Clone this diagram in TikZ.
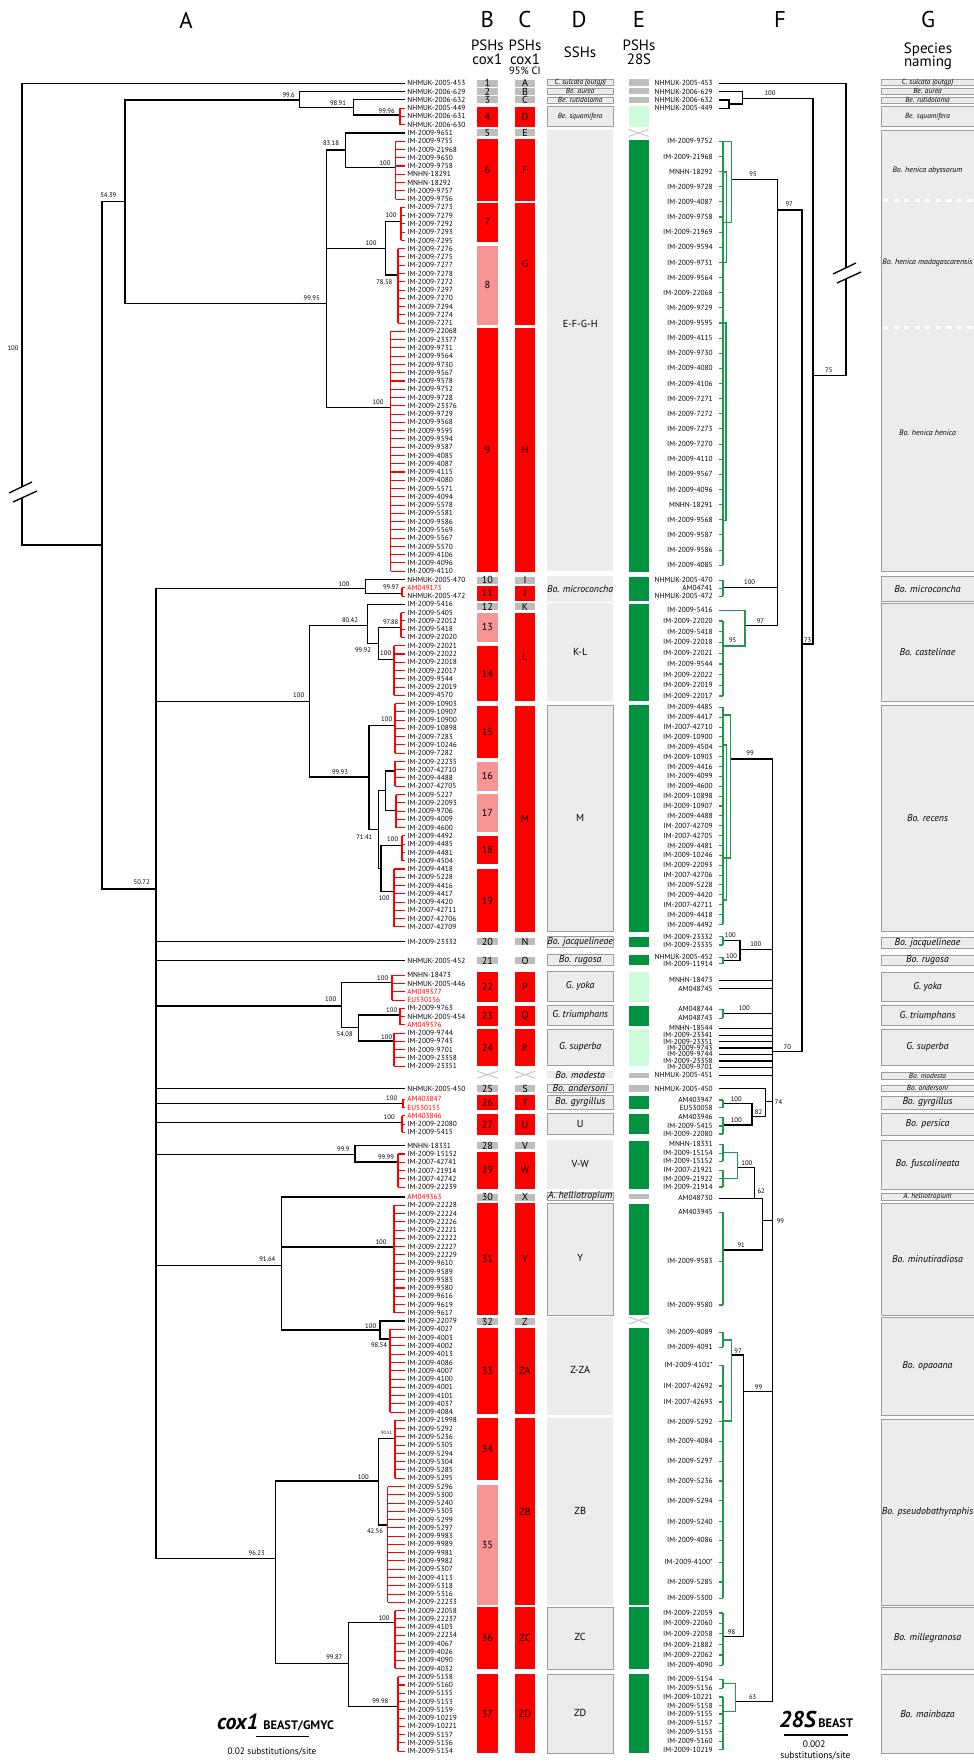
\documentclass[tikz,border=0pt]{standalone}
\usepackage{fontspec}
\setmainfont{PT Sans}
\usepackage{xcolor}
\definecolor{cladeRed}{HTML}{FF0000}
\definecolor{cladePink}{HTML}{F79494}
\definecolor{singleGrey}{HTML}{BDBDBD}
\definecolor{panelGrey}{HTML}{ECECEC}
\definecolor{edgeGrey}{HTML}{9C9C9C}
\definecolor{crossGrey}{HTML}{C8C8C8}
\definecolor{barGreen}{HTML}{00923F}
\definecolor{barMint}{HTML}{CCFCD9}
\definecolor{treeGreen}{HTML}{1E9A4A}

\newcommand{\tipfont}{\fontsize{4.2}{4.6}\selectfont}
\newcommand{\bootfont}{\fontsize{3.8}{4.2}\selectfont}
\newcommand{\numfont}{\fontsize{5.8}{6.2}\selectfont}
\newcommand{\spbig}{\fontsize{5.6}{6}\selectfont\itshape}
\newcommand{\spmid}{\fontsize{4.5}{5}\selectfont\itshape}
\newcommand{\sptiny}{\fontsize{4.2}{4.6}\selectfont\itshape}
\newcommand{\rt}[1]{\textcolor{cladeRed}{#1}}

% red GMYC comb: x of comb, first tip y, number of tips
\newcommand{\redclade}[3]{%
  \draw[redbranch] (#1,#2) -- (#1,{#2+8.27*(#3-1)});
  \foreach \j in {1,...,#3}
    \draw[redbranch] (#1,{#2+8.27*(\j-1)}) -- (404.5,{#2+8.27*(\j-1)});
}
% broken branch mark
\newcommand{\breakmark}[2]{%
  \fill[white] ({#1-13},{#2+6}) -- ({#1+10},{#2-5}) -- ({#1+15},{#2+4}) -- ({#1-9},{#2+15}) -- cycle;
  \draw[treeline] ({#1-13},{#2+6}) -- ({#1+10},{#2-5}) ({#1-9},{#2+15}) -- ({#1+15},{#2+4});
}

\tikzset{
  treeline/.style={line width=0.75pt},
  redbranch/.style={cladeRed, line width=0.6pt},
  greenbranch/.style={treeGreen, line width=0.6pt},
  tick g/.style={treeGreen, line width=0.6pt},
  tick b/.style={draw=none},
  tipL/.style={anchor=west, font=\tipfont, inner sep=0pt},
  tipR/.style={anchor=east, font=\tipfont, inner sep=0pt},
  boot/.style={font=\bootfont, inner sep=0pt},
  head/.style={font=\fontsize{13}{14}\selectfont, inner sep=0pt},
  sub/.style={font=\fontsize{8.5}{9}\selectfont, inner sep=0pt},
  colnum/.style={font=\numfont, inner sep=0pt},
  rbox/.style={fill=cladeRed},
  pbox/.style={fill=cladePink},
  gbox/.style={fill=singleGrey},
  dline/.style={fill=panelGrey, draw=edgeGrey, line width=0.5pt},
  dflat/.style={fill=panelGrey},
  gpanel/.style={fill=panelGrey, draw=edgeGrey, line width=0.5pt},
  egrey/.style={fill=singleGrey},
  egreen/.style={fill=barGreen},
  emint/.style={fill=barMint},
  crossline/.style={crossGrey, line width=0.6pt},
  scalebar/.style={line width=0.8pt}
}

\begin{document}
\begin{tikzpicture}[x=0.02cm, y=-0.02cm]
  \useasboundingbox (0,0) rectangle (973,1763);

  % column headers
  \node[head] (hA) at (186,20) {A};
  \node[head] (hB) at (487.3,20) {B};
  \node[head] (hC) at (525,20) {C};
  \node[head] (hD) at (579,20) {D};
  \node[head] (hE) at (639,20) {E};
  \node[head] (hF) at (780,20) {F};
  \node[head] (hG) at (928,20) {G};
  \node[sub] (sB1) at (487.3,45.7) {PSHs};
  \node[sub] (sB2) at (487.3,59) {cox1};
  \node[sub] (sC1) at (525,45.7) {PSHs};
  \node[sub] (sC2) at (525,59) {cox1};
  \node[sub, font=\fontsize{6}{6.5}\selectfont] (sC3) at (525,70.5) {95\% CI};
  \node[sub] (sD1) at (580,52.3) {SSHs};
  \node[sub] (sE1) at (639,45.7) {PSHs};
  \node[sub] (sE2) at (639,59) {28S};
  \node[sub] (sG1) at (928,49.3) {Species};
  \node[sub] (sG2) at (928,62.7) {naming};

  % ---------------- A: cox1 tree ----------------
  \draw[treeline]
    % root and outgroup
    (404.5,83.3) -- (22,83.3) -- (22,545) -- (102,545)
    (125,201.7) -- (102,201.7) -- (102,889) -- (156,889)
    % Be. clade
    (326.3,303.7) -- (125,303.7) -- (125,100) -- (299.3,100)
    (404.5,91.6) -- (299.3,91.6) -- (299.3,107.3) -- (353.3,107.3)
    (404.5,99.8) -- (353.3,99.8) -- (353.3,115) -- (400,115)
    % henica
    (345.3,150) -- (326.3,150) -- (326.3,407.3) -- (390.5,407.3)
    (326.3,248.7) -- (385.5,248.7)
    (404.5,133) -- (345.3,133) -- (345.3,167.7) -- (395.5,167.7)
    (401,221.3) -- (385.5,221.3) -- (385.5,275) -- (398,275)
    % ingroup
    (365.7,588.7) -- (156,588.7) -- (156,1558.3) -- (275.7,1558.3)
    (404.5,579.5) -- (365.7,579.5) -- (365.7,593.3) -- (402,593.3)
    (156,701.7) -- (309.3,701.7)
    (367.3,625.3) -- (309.3,625.3) -- (309.3,777) -- (369,777)
    (404.5,604.3) -- (367.3,604.3) -- (367.3,643.3) -- (378.7,643.3)
    (401,627.7) -- (378.7,627.7) -- (378.7,659.3) -- (394,659.3)
    (395,725.3) -- (369,725.3) -- (369,829.7) -- (378.7,829.7)
    (385.3,790.7) -- (378.7,790.7) -- (378.7,868.3) -- (381,868.3)
    (395,771) -- (385.3,771) -- (385.3,810.7) -- (396,810.7)
    (402,845.7) -- (381,845.7) -- (381,891.7) -- (394,891.7)
    (156,941.7) -- (404.5,941.7)
    (156,960.7) -- (404.5,960.7)
    (156,1006) -- (341.3,1006)
    (392,982.7) -- (341.3,982.7) -- (341.3,1027.7) -- (358.7,1027.7)
    (400,1015) -- (358.7,1015) -- (358.7,1041) -- (394,1041)
    (156,1088.7) -- (404.5,1088.7)
    (156,1103.3) -- (403,1103.3)
    (156,1122.3) -- (402,1122.3)
    (156,1154.3) -- (355,1154.3)
    (404.5,1145.7) -- (355,1145.7) -- (355,1162) -- (398,1162)
    (156,1265.7) -- (281.3,1265.7)
    (404.5,1197) -- (281.3,1197) -- (281.3,1330) -- (380,1330)
    (281.3,1247) -- (394,1247)
    (404.5,1321.1) -- (380,1321.1) -- (380,1339) -- (390,1339)
    (378.7,1481) -- (275.7,1481) -- (275.7,1663.3) -- (348.3,1663.3)
    (395,1438.3) -- (378.7,1438.3) -- (378.7,1525) -- (387.5,1525)
    (395,1622.7) -- (348.3,1622.7) -- (348.3,1706.7) -- (398,1706.7);
  \breakmark{22}{487}

  % red GMYC clusters
  \redclade{400}{108.1}{3}
  \redclade{395.5}{141.2}{8}
  \redclade{401}{207.4}{5}
  \redclade{398}{248.7}{10}
  \redclade{390.5}{331.4}{30}
  \redclade{402}{587.8}{2}
  \redclade{401}{612.6}{4}
  \redclade{394}{645.7}{7}
  \redclade{395}{703.6}{7}
  \redclade{395}{761.4}{4}
  \redclade{396}{794.5}{5}
  \redclade{402}{835.9}{4}
  \redclade{394}{869.0}{8}
  \redclade{392}{975.3}{4}
  \redclade{400}{1008.4}{3}
  \redclade{394}{1033.1}{5}
  \redclade{403}{1099.3}{2}
  \redclade{402}{1115.8}{3}
  \redclade{398}{1154.0}{5}
  \redclade{394}{1205.3}{14}
  \redclade{390}{1329.4}{11}
  \redclade{395}{1420.3}{8}
  \redclade{387.5}{1486.5}{15}
  \redclade{395}{1610.5}{8}
  \redclade{398}{1676.7}{10}

  % posterior values
  \foreach \x/\y/\v in {13/347.7/100, 288.7/95/99.6, 338/103.3/98.91, 386.7/110.7/99.96,
      108.3/195/54.39, 331/143.3/83.18, 385/163/100, 391/215.3/100, 371/243/100,
      384.3/281.7/78.58, 311.7/297.7/99.95, 378/402.3/100, 344/583.7/100, 391/587.3/99.97,
      141.7/882/50.72, 350/620/80.42, 390.7/621.7/97.88, 363/650/99.92, 385.7/653.3/100,
      298.7/695/100, 386.7/719.3/100, 340/772.3/99.93, 392.7/839.3/100, 364.3/837/71.41,
      384/898/100, 382.7/977.7/100, 330.7/999.3/100, 391.7/1010/100, 344.7/1034.3/54.08,
      386.7/1036.7/100, 391.7/1098.3/100, 389.3/1116.7/100, 343.3/1149.3/99.9,
      386/1157.3/99.99, 267.3/1259/91.64, 381/1242.3/100, 370.7/1325.7/100,
      379/1345.3/98.54, 363.3/1476.7/100, 375/1530.7/42.56, 256.7/1552.7/96.23,
      334.3/1657.3/99.87, 384/1617.7/100, 380.3/1700.7/99.98}
    \node[boot] at (\x,\y) {\v};
  \node[boot, font=\fontsize{2.6}{3}\selectfont] at (386.7,1433.3) {90.51};

  % cox1 tip labels
  \foreach \t [count=\i from 0] in {NHMUK-2005-453, NHMUK-2006-629, NHMUK-2006-632,
      NHMUK-2005-449, NHMUK-2006-631, NHMUK-2006-630, IM-2009-9651,
      IM-2009-9755, IM-2009-21968, IM-2009-9650, IM-2009-9758, MNHN-18291, MNHN-18292,
      IM-2009-9757, IM-2009-9756,
      IM-2009-7273, IM-2009-7279, IM-2009-7292, IM-2009-7293, IM-2009-7295,
      IM-2009-7276, IM-2009-7275, IM-2009-7277, IM-2009-7278, IM-2009-7272, IM-2009-7297,
      IM-2009-7270, IM-2009-7294, IM-2009-7274, IM-2009-7271,
      IM-2009-22068, IM-2009-23377, IM-2009-9731, IM-2009-9564, IM-2009-9730, IM-2009-9567,
      IM-2009-9578, IM-2009-9752, IM-2009-9728, IM-2009-23376, IM-2009-9729, IM-2009-9568,
      IM-2009-9595, IM-2009-9594, IM-2009-9587, IM-2009-4085, IM-2009-4087, IM-2009-4115,
      IM-2009-4080, IM-2009-5571, IM-2009-4094, IM-2009-5578, IM-2009-5581, IM-2009-9586,
      IM-2009-5569, IM-2009-5567, IM-2009-5570, IM-2009-4106, IM-2009-4096, IM-2009-4110,
      NHMUK-2005-470, \rt{AM049173}, NHMUK-2005-472, IM-2009-5416,
      IM-2009-5405, IM-2009-22012, IM-2009-5418, IM-2009-22020,
      IM-2009-22021, IM-2009-22022, IM-2009-22018, IM-2009-22017, IM-2009-9544,
      IM-2009-22019, IM-2009-4570,
      IM-2009-10903, IM-2009-10907, IM-2009-10900, IM-2009-10898, IM-2009-7283,
      IM-2009-10246, IM-2009-7282,
      IM-2009-22235, IM-2007-42710, IM-2009-4488, IM-2007-42705,
      IM-2009-5227, IM-2009-22093, IM-2009-9706, IM-2009-4009, IM-2009-4600,
      IM-2009-4492, IM-2009-4485, IM-2009-4481, IM-2009-4504,
      IM-2009-4418, IM-2009-5228, IM-2009-4416, IM-2009-4417, IM-2009-4420,
      IM-2007-42711, IM-2007-42706, IM-2007-42709}
    \node[tipL] (cox\i) at (407,{83.3+8.27*\i}) {\t};
  \foreach \y/\t [count=\i] in {941.7/IM-2009-23332, 960.7/NHMUK-2005-452,
      975.3/MNHN-18473, 983.6/NHMUK-2005-446, 991.9/\rt{AM049377}, 1000.1/\rt{EU530156},
      1008.4/IM-2009-9763, 1016.7/NHMUK-2005-454, 1024.9/\rt{AM049376},
      1033.1/IM-2009-9744, 1041.4/IM-2009-9743, 1049.7/IM-2009-9701,
      1057.9/IM-2009-23358, 1066.2/IM-2009-23351,
      1088.7/NHMUK-2005-450, 1099.3/\rt{AM403847}, 1107.6/\rt{EU530155},
      1115.8/\rt{AM403846}, 1124.1/IM-2009-22080, 1132.4/IM-2009-5415,
      1145.7/MNHN-18331, 1154.0/IM-2009-15152, 1162.3/IM-2007-42741,
      1170.5/IM-2007-21914, 1178.8/IM-2007-42742, 1187.1/IM-2009-22239,
      1197.0/\rt{AM049363}}
    \node[tipL] (coxm\i) at (407,\y) {\t};
  \foreach \t [count=\i from 0] in {22228, 22224, 22226, 22221, 22222, 22227, 22229,
      9610, 9589, 9583, 9580, 9616, 9619, 9617, 22079,
      4027, 4003, 4002, 4013, 4086, 4007, 4100, 4001, 4101, 4037, 4084,
      21998, 5292, 5236, 5305, 5294, 5304, 5285, 5295,
      5296, 5300, 5240, 5303, 5299, 5297, 9983, 9989, 9981, 9982, 5307, 4113, 5318,
      5316, 22233,
      22058, 22237, 4103, 22234, 4067, 4026, 4090, 4032,
      5158, 5160, 5155, 5153, 5159, 10219, 10221, 5157, 5156, 5154}
    \node[tipL] (coxb\i) at (407,{1205.3+8.27*\i}) {IM-2009-\t};

  % cox1 label and scale
  \node[font={\fontsize{12.5}{13}\selectfont\bfseries\itshape}, anchor=base east, inner sep=0pt] (coxT) at (259,1729) {cox1};
  \node[font={\fontsize{7}{8}\selectfont\bfseries}, anchor=base west, inner sep=0pt] (coxM) at (263,1729) {BEAST/GMYC};
  \draw[scalebar] (256,1736.7) -- (308.7,1736.7);
  \node[font=\fontsize{5.3}{6}\selectfont, inner sep=0pt] (coxS) at (272,1752.3) {0.02 substitutions/site};

  % ---------------- B and C: PSHs cox1 ----------------
  \foreach \ya/\yb/\s/\l [count=\i] in {79.8/86.8/gbox/1, 88.1/95.1/gbox/2, 96.3/103.3/gbox/3,
      106.7/126.7/rbox/4, 129.5/136.5/gbox/5, 139.3/200.7/rbox/6, 202.7/242/rbox/7,
      245.7/325/pbox/8, 328/571.7/rbox/9, 576.5/583.5/gbox/10, 586/600.7/rbox/11,
      603.2/610.2/gbox/12, 612.7/641.7/pbox/13, 646/701/rbox/14, 705.7/758.3/rbox/15,
      761.7/790.7/pbox/16, 794.3/831.7/pbox/17, 836/864.3/rbox/18, 869.3/931.7/rbox/19,
      938.2/945.2/gbox/20, 957.2/964.2/gbox/21, 972/1001.7/rbox/22, 1005.7/1025.7/rbox/23,
      1029.3/1066/rbox/24, 1085.2/1092.2/gbox/25, 1095/1110/rbox/26, 1114/1135/rbox/27,
      1142.2/1149.2/gbox/28, 1151.7/1188.7/rbox/29, 1193.5/1200.5/gbox/30,
      1203.3/1315/rbox/31, 1318.2/1325.2/gbox/32, 1327.7/1414/rbox/33,
      1418.3/1480/rbox/34, 1485/1605/pbox/35, 1607.3/1669/rbox/36, 1674.3/1752.7/rbox/37}
    \path[\s] (477,\ya) rectangle node[colnum] (B\i) {\l} (497.7,\yb);
  \foreach \ya/\yb/\s/\l [count=\i] in {79.8/86.8/gbox/A, 88.1/95.1/gbox/B, 96.3/103.3/gbox/C,
      106.7/126.7/rbox/D, 129.5/136.5/gbox/E, 139.3/200.7/rbox/F, 202.7/325/rbox/G,
      328/571.7/rbox/H, 576.5/583.5/gbox/I, 586/600.7/rbox/J, 603.2/610.2/gbox/K,
      612.7/701/rbox/L, 705.7/931.7/rbox/M, 938.2/945.2/gbox/N, 957.2/964.2/gbox/O,
      972/1001.7/rbox/P, 1005.7/1025.7/rbox/Q, 1029.3/1066/rbox/R, 1085.2/1092.2/gbox/S,
      1095/1110/rbox/T, 1114/1135/rbox/U, 1142.2/1149.2/gbox/V, 1151.7/1188.7/rbox/W,
      1193.5/1200.5/gbox/X, 1203.3/1315/rbox/Y, 1318.2/1325.2/gbox/Z,
      1327.7/1414/rbox/ZA, 1418.3/1605/rbox/ZB, 1607.3/1669/rbox/ZC, 1674.3/1752.7/rbox/ZD}
    \path[\s] (514.6,\ya) rectangle node[colnum] (C\i) {\l} (535.4,\yb);

  % ---------------- D: SSHs ----------------
  \foreach \ya/\yb/\s/\ly/\f/\l [count=\i] in {
      79/85.7/dline/82.4/\sptiny/C. sulcata (outgp), 88/94.3/dline/91.2/\sptiny/Be. aurea,
      97/103.3/dline/100.2/\sptiny/Be. rutidoloma, 106/126.7/dline/116.3/\sptiny/Be. squamifera,
      130/570.7/dflat/324/\numfont/E-F-G-H, 576/601.7/dflat/589/\spbig/Bo. microconcha,
      602.7/701/dflat/651.7/\numfont/K-L, 705/931.7/dline/818.3/\numfont/M,
      936.7/947.3/dline/942/\spbig/Bo. jacquelineae, 954.3/965.7/dline/960/\spbig/Bo. rugosa,
      971/1001.7/dline/986.3/\spbig/G. yoka, 1005/1025.7/dline/1015.3/\spbig/G. triumphans,
      1029/1065.7/dline/1047.3/\spbig/G. superba, 1071.3/1078.3/dflat/1074.8/\spbig/Bo. modesta,
      1084.3/1092/dline/1088.2/\spbig/Bo. andersoni, 1095.3/1109/dline/1102.2/\spbig/Bo. gyrgillus,
      1113.3/1134.3/dline/1123.8/\numfont/U, 1140/1188.7/dflat/1164/\numfont/V-W,
      1192.3/1200/dline/1196.2/\spbig/A. helliotropium, 1203.3/1315/dline/1258.3/\numfont/Y,
      1316.7/1415/dflat/1369.7/\numfont/Z-ZA, 1418.3/1605/dflat/1510.7/\numfont/ZB,
      1607.3/1669/dline/1637.3/\numfont/ZC, 1674.3/1753.3/dline/1713.3/\numfont/ZD}
  {
    \path[\s] (547.3,\ya) rectangle (613.1,\yb);
    \node[inner sep=0pt, font=\f] (D\i) at (580.2,\ly) {\l};
  }

  % ---------------- E: PSHs 28S ----------------
  \foreach \ya/\yb/\s in {79.3/86/egrey, 88/94.3/egrey, 97/103.3/egrey, 106/126.7/emint,
      140/571.7/egreen, 576.7/600.7/egreen, 604/701/egreen, 705/931.7/egreen,
      937.3/947.3/egreen, 955/965/egreen, 972/1001.7/emint, 1005.7/1025.7/egreen,
      1029.3/1065.7/emint, 1072.7/1078.3/egrey, 1085/1091.7/egrey, 1095.7/1109/egreen,
      1114/1134.3/egreen, 1140.7/1188.7/egreen, 1194/1199.3/egrey, 1204/1315/egreen,
      1327.7/1605/egreen, 1607.3/1669/egreen, 1674.3/1753.3/egreen}
    \path[\s] (628.5,\ya) rectangle (648.8,\yb);

  % missing data crosses
  \foreach \xa/\xb/\y in {477/497.7/1074.7, 514.6/535.4/1074.7, 628.5/648.8/133, 628.5/648.8/1320.5}
    \draw[crossline] (\xa,{\y-3.5}) -- (\xb,{\y+3.5}) (\xa,{\y+3.5}) -- (\xb,{\y-3.5});

  % ---------------- F: 28S tree ----------------
  \draw[treeline]
    (718.8,83.3) -- (846,83.3) -- (846,375.7) -- (813,375.7)
    (719,91.7) -- (742.5,91.7) -- (742.5,104) -- (729,104)
    (719,100) -- (729,100) -- (729,108.3) -- (719,108.3)
    (742.5,98.3) -- (813,98.3) -- (813,644) -- (801.9,644)
    (777.7,210) -- (801.9,210) -- (801.9,1051.7) -- (772.3,1051.7)
    (731.5,179.3) -- (777.7,179.3) -- (777.7,625.7) -- (745,625.7)
    (723,587.3) -- (777.7,587.3)
    (730.4,759) -- (772.3,759) -- (772.3,1701.7) -- (735.4,1701.7)
    (723,940.8) -- (740,940.8) -- (740,960.5) -- (723,960.5)
    (740,949.3) -- (772.3,949.3)
    (718.8,980.3) -- (772.3,980.3)
    (718.8,988.7) -- (772.3,988.7)
    (723,1013.3) -- (772.3,1013.3)
    (718.8,1088.7) -- (765.4,1088.7) -- (765.4,1116.7) -- (751.9,1116.7)
    (765.4,1101.7) -- (772.3,1101.7)
    (723,1103.3) -- (751.9,1103.3) -- (751.9,1125) -- (723,1125)
    (737.3,1167.3) -- (754.6,1167.3) -- (754.6,1198.3)
    (718.8,1198.3) -- (762.3,1198.3) -- (762.3,1250) -- (723,1250)
    (762.3,1220.7) -- (772.3,1220.7)
    (731.5,1355) -- (743.5,1355) -- (743.5,1636.7) -- (723,1636.7)
    (743.5,1391.7) -- (772.3,1391.7);
  \foreach \y in {1028.3,1035.3,1041.7,1048,1054.3,1061,1067.3,1075.3}
    \draw[treeline] (718.8,\y) -- (772.3,\y);
  \breakmark{846}{268}

  \draw[greenbranch]
    % henica
    (723,141.3) -- (723,565.3)
    (723,141.3) -- (731.5,141.3) -- (731.5,222.7) -- (723,222.7)
    (723,172) -- (726.5,172) -- (726.5,262.7) -- (723,262.7)
    (723,323) -- (726,323) -- (726,520.3) -- (723,520.3)
    % microconcha
    (723,580.3) -- (723,596.3)
    % castelinae
    (719,610.3) -- (745,610.3) -- (745,646) -- (723,646)
    (723,621) -- (723,696)
    % recens
    (723,707.3) -- (723,924.4)
    (723,715) -- (730.4,715) -- (730.4,858) -- (723,858)
    (723,745) -- (726.5,745) -- (726.5,900) -- (723,900)
    % jacquelineae, rugosa, triumphans, gyrgillus, persica
    (723,936.7) -- (723,945) (723,957.3) -- (723,963.7)
    (723,1009.3) -- (723,1018.3)
    (723,1100) -- (723,1107.7) (723,1117.3) -- (723,1134)
    % fuscolineata
    (723,1144.3) -- (723,1161.3) (723,1170.3) -- (723,1187)
    (723,1152.8) -- (737.3,1152.8) -- (737.3,1178.7) -- (723,1178.7)
    % minutiradiosa
    (723,1212.3) -- (723,1305)
    % opaoana, pseudobathyraphis
    (723,1332.3) -- (723,1347.3) (723,1365.3) -- (723,1598.3)
    (723,1340) -- (731.5,1340) -- (731.5,1421) -- (723,1421)
    % millegranosa
    (723,1613) -- (723,1665.3)
    % mainbaza
    (723,1679.3) -- (723,1688.3) (723,1697) -- (723,1749.7)
    (723,1683.8) -- (735.4,1683.8) -- (735.4,1711.7) -- (723,1711.7);

  % 28S tip labels
  \foreach \t [count=\i from 0] in {IM-2009-9752, IM-2009-21968, MNHN-18292, IM-2009-9728,
      IM-2009-4087, IM-2009-9758, IM-2009-21969, IM-2009-9594, IM-2009-9731, IM-2009-9564,
      IM-2009-22068, IM-2009-9729, IM-2009-9595, IM-2009-4115, IM-2009-9730, IM-2009-4080,
      IM-2009-4106, IM-2009-7271, IM-2009-7272, IM-2009-7273, IM-2009-7270, IM-2009-4110,
      IM-2009-9567, IM-2009-4096, MNHN-18291, IM-2009-9568, IM-2009-9587, IM-2009-9586,
      IM-2009-4085}
  {
    \node[tipR] (hen\i) at (713,{141.3+15.14*\i}) {\t};
    \draw[tick g] (719,{141.3+15.14*\i}) -- (723,{141.3+15.14*\i});
  }
  \foreach \t [count=\i from 0] in {IM-2009-4485, IM-2009-4417, IM-2007-42710, IM-2009-10900,
      IM-2009-4504, IM-2009-10903, IM-2009-4416, IM-2009-4099, IM-2009-4600, IM-2009-10898,
      IM-2009-10907, IM-2009-4488, IM-2007-42709, IM-2007-42705, IM-2009-4481, IM-2009-10246,
      IM-2009-22093, IM-2007-42706, IM-2009-5228, IM-2009-4420, IM-2007-42711, IM-2009-4418,
      IM-2009-4492}
  {
    \node[tipR] (rec\i) at (713,{707.3+9.87*\i}) {\t};
    \draw[tick g] (719,{707.3+9.87*\i}) -- (723,{707.3+9.87*\i});
  }
  \foreach \y/\t/\k [count=\i] in {83.3/NHMUK-2005-453/b, 91.7/NHMUK-2006-629/b,
      100/NHMUK-2006-632/b, 108.3/NHMUK-2005-449/b,
      580.3/NHMUK-2005-470/g, 588.3/AM04741/g, 596.3/NHMUK-2005-472/g,
      610.3/IM-2009-5416/b, 621/IM-2009-22020/g, 631.7/IM-2009-5418/g, 642.3/IM-2009-22018/g,
      653.3/IM-2009-22021/g, 664/IM-2009-9544/g, 674.7/IM-2009-22022/g, 685.3/IM-2009-22019/g,
      696/IM-2009-22017/g,
      936.7/IM-2009-23332/g, 945/IM-2009-23335/g, 957.3/NHMUK-2005-452/g, 963.7/IM-2009-11914/g,
      980.3/MNHN-18473/b, 988.7/AM048745/b, 1009.3/AM048744/g, 1018.3/AM048743/g,
      1028.3/MNHN-18544/b, 1035.3/IM-2009-23341/b, 1041.7/IM-2009-23351/b, 1048/IM-2009-9743/b,
      1054.3/IM-2009-9744/b, 1061/IM-2009-23358/b, 1067.3/IM-2009-9701/b,
      1075.3/NHMUK-2005-451/b, 1088.7/NHMUK-2005-450/b,
      1100/AM403947/g, 1107.7/EU530058/g, 1117.3/AM403946/g, 1126/IM-2009-5415/g,
      1134/IM-2009-22080/g,
      1144.3/MNHN-18331/g, 1153.3/IM-2009-15154/g, 1161.3/IM-2009-15152/g,
      1170.3/IM-2007-21921/g, 1178.7/IM-2009-21922/g, 1187/IM-2009-21914/g,
      1198.3/AM048730/b, 1212.3/AM403945/g, 1261.3/IM-2009-9583/g, 1305/IM-2009-9580/g,
      1332.3/IM-2009-4089/g, 1347.3/IM-2009-4091/g, 1365.3/IM-2009-4101*/g,
      1386/IM-2007-42692/g, 1402/IM-2007-42693/g, 1421.7/IM-2009-5292/g, 1441.3/IM-2009-4084/g,
      1461.3/IM-2009-5297/g, 1481/IM-2009-5236/g, 1500.7/IM-2009-5294/g, 1521.7/IM-2009-5240/g,
      1540.3/IM-2009-4086/g, 1562.3/IM-2009-4100*/g, 1582/IM-2009-5285/g, 1598.3/IM-2009-5300/g,
      1613/IM-2009-22059/g, 1623.3/IM-2009-22060/g, 1633.7/IM-2009-22058/g,
      1644.7/IM-2009-21882/g, 1655/IM-2009-22062/g, 1665.3/IM-2009-4090/g,
      1679.3/IM-2009-5154/g, 1688.3/IM-2009-5156/g, 1697/IM-2009-10221/g, 1705.7/IM-2009-5158/g,
      1714/IM-2009-5155/g, 1723.3/IM-2009-5157/g, 1731.7/IM-2009-5153/g, 1741.3/IM-2009-5160/g,
      1749.7/IM-2009-10219/g}
  {
    \node[tipR] (its\i) at (713,\y) {\t};
    \draw[tick \k] (719,\y) -- (723,\y);
  }

  % 28S posterior probabilities
  \foreach \x/\y/\v in {770/93.3/100, 753/174.3/95, 789.2/204.3/97, 828.8/370/75,
      749.6/581.7/100, 760.4/621/97, 732.7/640/95, 807.7/640/73, 750/753.3/99,
      730.4/935.3/100, 731.5/956.3/100, 755.8/944.3/100, 744.2/1007.7/100, 787.3/1046.7/70,
      778.5/1101.7/74, 758.5/1112.3/82, 736.2/1099.3/100, 736.2/1120/100, 746.9/1163.3/100,
      761.2/1191/62, 780.4/1220.7/99, 741.2/1245/91, 738/1350.7/97, 758.5/1386.7/99,
      731.5/1631.7/98, 752.7/1696.7/63}
    \node[boot] at (\x,\y) {\v};

  % 28S label and scale
  \node[font={\fontsize{13}{14}\selectfont\bfseries\itshape}, anchor=base east, inner sep=0pt] (itsT) at (816,1727) {28S};
  \node[font={\fontsize{7}{8}\selectfont\bfseries}, anchor=base west, inner sep=0pt] (itsM) at (818,1727) {BEAST};
  \draw[scalebar] (783.5,1735) -- (848.1,1735);
  \node[font=\fontsize{5.4}{6}\selectfont, inner sep=0pt] (itsS1) at (814.2,1744) {0.002};
  \node[font=\fontsize{5.4}{6}\selectfont, inner sep=0pt] (itsS2) at (815.4,1755.7) {substitutions/site};

  % ---------------- G: species naming ----------------
  \path[gpanel] (881.5,130) rectangle (980,571.7);
  \draw[white, line width=1.4pt, dash pattern=on 3pt off 3pt] (883,200.7) -- (973,200.7) (883,327.3) -- (973,327.3);
  \node[inner sep=0pt, font=\spmid] (Gh1) at (927.5,171) {Bo. henica abyssorum};
  \node[inner sep=0pt, font=\spmid] (Gh2) at (927.5,263) {Bo. henica madagascarensis};
  \node[inner sep=0pt, font=\spmid] (Gh3) at (927.5,432.3) {Bo. henica henica};
  \foreach \ya/\yb/\f/\l [count=\i] in {79/85.7/\sptiny/C. sulcata (outgp),
      88/94.7/\sptiny/Be. aurea, 97/103.7/\sptiny/Be. rutidoloma, 106/126.7/\sptiny/Be. squamifera,
      576.7/601.7/\spbig/Bo. microconcha, 603.3/701/\spbig/Bo. castelinae,
      705/931.7/\spbig/Bo. recens, 937.7/948.3/\spbig/Bo. jacquelineae,
      955.3/965.7/\spbig/Bo. rugosa, 972/1001.7/\spbig/G. yoka,
      1005.7/1025.7/\spbig/G. triumphans, 1029/1065.7/\spbig/G. superba,
      1072.3/1079/\sptiny/Bo. modesta, 1085/1091.7/\sptiny/Bo. andersoni,
      1096/1109/\spbig/Bo. gyrgillus, 1113.3/1135/\spbig/Bo. persica,
      1140/1189/\spbig/Bo. fuscolineata, 1193.3/1200.7/\sptiny/A. helliotropium,
      1203.3/1315/\spbig/Bo. minutiradiosa, 1317.3/1415/\spbig/Bo. opaoana,
      1419/1605/\spbig/Bo. pseudobathyraphis, 1607.3/1669/\spbig/Bo. millegranosa,
      1674.3/1753.3/\spbig/Bo. mainbaza}
  {
    \path[gpanel] (881.5,\ya) rectangle (980,\yb);
    \node[inner sep=0pt, font=\f] (G\i) at (927.5,{(\ya+\yb)/2}) {\l};
  }
\end{tikzpicture}
\end{document}
